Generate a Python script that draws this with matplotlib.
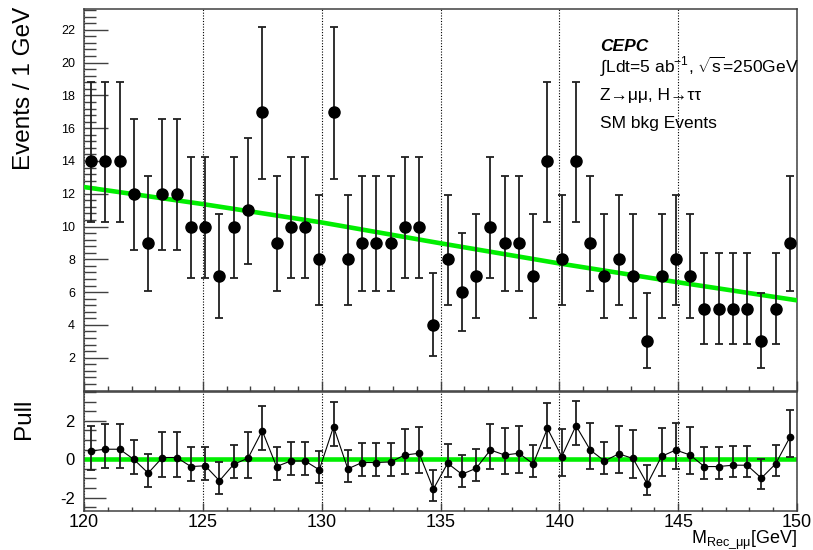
import numpy as np
import matplotlib
matplotlib.use("Agg")
import matplotlib.pyplot as plt
from matplotlib.ticker import MultipleLocator

plt.rcParams['font.family'] = ['Liberation Sans', 'DejaVu Sans']
plt.rcParams['mathtext.fontset'] = 'custom'
plt.rcParams['mathtext.rm'] = 'Liberation Sans'
plt.rcParams['mathtext.it'] = 'Liberation Sans:italic'
plt.rcParams['mathtext.bf'] = 'Liberation Sans:bold'
plt.rcParams['axes.unicode_minus'] = False

# 50 bins of 0.6 GeV between 120 and 150 GeV
edges = np.linspace(120, 150, 51)
mass = 0.5 * (edges[:-1] + edges[1:])

events = np.array([14, 14, 14, 12, 9, 12, 12, 10, 10, 7,
                   10, 11, 17, 9, 10, 10, 8, 17, 8, 9,
                   9, 9, 10, 10, 4, 8, 6, 7, 10, 9,
                   9, 7, 14, 8, 14, 9, 7, 8, 7, 3,
                   7, 8, 7, 5, 5, 5, 5, 3, 5, 9])

# poisson 68% intervals for each count
count_tab = [3, 4, 5, 6, 7, 8, 9, 10, 11, 12, 13, 14, 15, 16, 17]
band_lo = [1.37, 2.09, 2.84, 3.62, 4.42, 5.23, 6.06, 6.89, 7.74, 8.58, 9.44, 10.30, 11.17, 12.04, 12.91]
band_hi = [5.92, 7.16, 8.38, 9.58, 10.77, 11.95, 13.11, 14.27, 15.42, 16.56, 17.70, 18.83, 19.96, 21.08, 22.20]

# fitted background shape
fit_mass = [120, 125, 130, 135, 140, 145, 150]
fit_val = [12.41, 11.37, 10.25, 8.98, 7.75, 6.60, 5.50]

pull = np.array([0.43, 0.52, 0.52, -0.01, -0.72, 0.09, 0.09, -0.38, -0.34, -1.12,
                 -0.26, 0.05, 1.48, -0.38, -0.09, -0.09, -0.55, 1.69, -0.50, -0.17,
                 -0.17, -0.14, 0.22, 0.31, -1.55, -0.21, -0.78, -0.47, 0.48, 0.22,
                 0.31, -0.24, 1.60, 0.14, 1.74, 0.48, -0.09, 0.28, 0.04, -1.29,
                 0.15, 0.48, 0.22, -0.38, -0.38, -0.31, -0.31, -0.98, -0.24, 1.14])

lo_map = dict(zip(count_tab, band_lo))
hi_map = dict(zip(count_tab, band_hi))
ev_lo = np.array([lo_map[n] for n in events])
ev_hi = np.array([hi_map[n] for n in events])
err_dn = events - ev_lo
err_up = ev_hi - events

# pull error bars in units of the error used for the pull
pull_dn = np.where(pull >= 0, 1.0, err_dn / err_up)
pull_up = np.where(pull >= 0, err_up / err_dn, 1.0)

W, H = 813, 550
fig = plt.figure(figsize=(W / 100, H / 100), dpi=100)
ax = fig.add_axes([84 / W, 1 - 390.5 / H, 713 / W, 381.5 / H])
axp = fig.add_axes([84 / W, 1 - 511 / H, 713 / W, 119.5 / H])

frame = '#404040'
green = '#00ee00'

ax.errorbar(mass, events, yerr=[err_dn, err_up], fmt='o', color='black', ms=8,
            ecolor='#202020', elinewidth=1.3, capsize=3, capthick=1.3, zorder=4)
ax.plot(fit_mass, fit_val, color=green, lw=3.3, zorder=3)

axp.axhline(0, color=green, lw=3.3, zorder=2)
axp.plot(mass, pull, color='black', lw=0.8, zorder=3)
axp.errorbar(mass, pull, yerr=[pull_dn, pull_up], fmt='o', color='black', ms=4.5,
             ecolor='#202020', elinewidth=1.3, capsize=3, capthick=1.3, zorder=4)

for a in (ax, axp):
    a.set_xlim(120, 150)
    a.xaxis.set_major_locator(MultipleLocator(5))
    a.xaxis.set_minor_locator(MultipleLocator(1))
    a.xaxis.grid(True, which='major', color='black', linestyle=(0, (1, 1.5)), lw=0.8)
    a.set_axisbelow(True)
    for s in a.spines.values():
        s.set_color(frame)
        s.set_linewidth(1.1)
    a.tick_params(which='both', direction='in', top=False, right=False, color=frame, width=1.0)

ax.set_ylim(0, 23.27)
ax.yaxis.set_minor_locator(MultipleLocator(0.4))
ax.set_yticks(np.arange(2, 23, 2))
ax.tick_params(axis='y', which='major', length=17, labelsize=9, pad=6.5)
ax.tick_params(axis='y', which='minor', length=8.6)
ax.tick_params(axis='x', which='major', length=7.2, labelbottom=False)
ax.tick_params(axis='x', which='minor', length=3.6)

axp.set_ylim(-2.69, 3.52)
axp.set_yticks([-2, 0, 2])
axp.yaxis.set_minor_locator(MultipleLocator(0.5))
axp.tick_params(axis='y', which='major', length=16, labelsize=12, pad=6.5)
axp.tick_params(axis='y', which='minor', length=8.6)
axp.tick_params(axis='x', which='major', length=6, labelsize=13, pad=2)
axp.tick_params(axis='x', which='minor', length=3)

fig.text(24 / W, 1 - 7 / H, 'Events / 1 GeV', rotation=90, ha='center', va='top', fontsize=17.5)
fig.text(24 / W, 1 - 399 / H, 'Pull', rotation=90, ha='center', va='top', fontsize=17.5)
fig.text(797 / W, 1 - 543 / H, r'M$_{\mathrm{Rec\_μμ}}$[GeV]', ha='right', va='baseline', fontsize=13)

tx = 600 / W
fig.text(tx, 1 - 51 / H, 'CEPC', fontsize=12.5, fontweight='bold', fontstyle='italic', va='baseline')
fig.text(tx, 1 - 73.3 / H, r'∫Ldt=5 ab$^{-1}$, $\sqrt{\mathrm{s}}$=250GeV', fontsize=12.5, va='baseline')
fig.text(tx, 1 - 100 / H, 'Z→μμ, H→ττ', fontsize=12.5, va='baseline')
fig.text(tx, 1 - 128 / H, 'SM bkg Events', fontsize=12.5, va='baseline')

fig.savefig('out.png', dpi=100)
